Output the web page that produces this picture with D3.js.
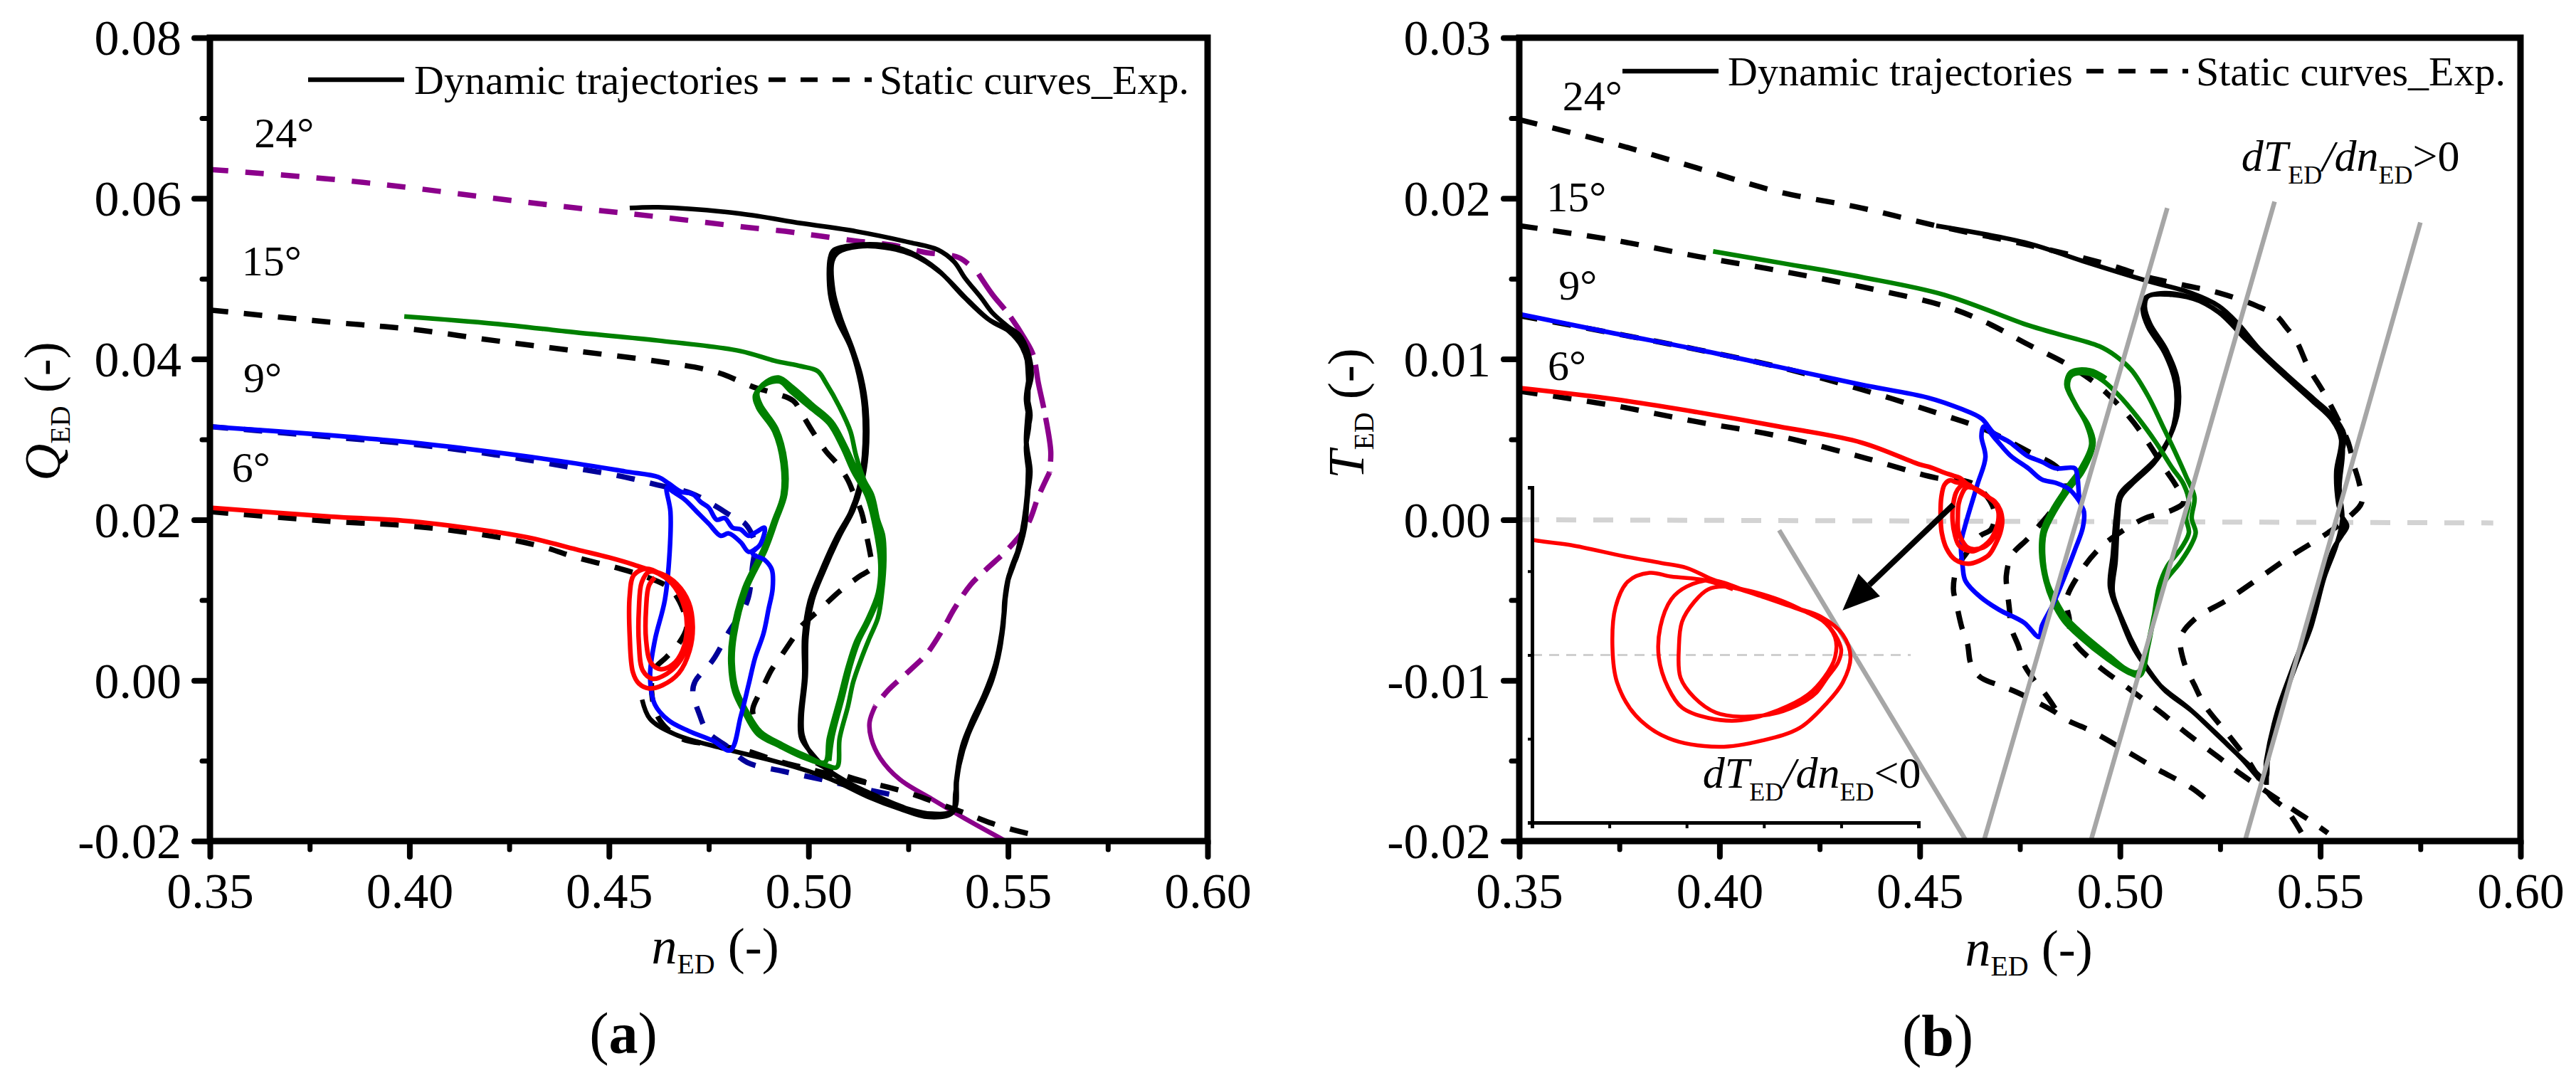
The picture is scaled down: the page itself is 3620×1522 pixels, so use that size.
<!DOCTYPE html>
<html><head><meta charset="utf-8">
<script src="https://cdn.jsdelivr.net/npm/d3@7"></script>
<style>body{margin:0;background:#fff}svg{display:block}
svg text{font-family:"Liberation Serif","Times New Roman",Times,serif !important}</style>
</head><body><svg id="c" width="3620" height="1522"></svg>
<script>
// ---------- tick values & labels ----------
const xTicks=[0.35,0.40,0.45,0.50,0.55,0.60];
const xMinor=[0.375,0.425,0.475,0.525,0.575];
const qTicks=[-0.02,0.00,0.02,0.04,0.06,0.08];
const qMinor=[-0.01,0.01,0.03,0.05,0.07];
const tTicks=[-0.02,-0.01,0.00,0.01,0.02,0.03];
const tMinor=[-0.015,-0.005,0.005,0.015,0.025];
const insetXTicks=[0.45,0.455,0.46,0.465,0.47,0.475];
const insetYTicks=[-0.005,-0.0025,0,0.0025,0.005];
const angleLabels=["24°","15°","9°","6°"];
const legendLabels=["Dynamic trajectories","Static curves_Exp."];

// ---------- panel (a): Q_ED vs n_ED ----------
const qStatic24=[[0.35,0.0636],[0.3802,0.0624],[0.4007,0.0613],[0.4213,0.0600],[0.4418,0.0588],[0.4624,0.0577],[0.4846,0.0564],[0.4942,0.0559],[0.5017,0.0554],[0.5119,0.0547],[0.5208,0.0542],[0.5290,0.0533],[0.5378,0.0526],[0.5426,0.0506],[0.5460,0.0481],[0.5501,0.0456],[0.5542,0.0425],[0.5563,0.0405],[0.5576,0.0370],[0.5593,0.0330],[0.5607,0.0285],[0.5604,0.0259],[0.5576,0.0229],[0.5549,0.0194],[0.5501,0.0164],[0.5447,0.0139],[0.5406,0.0119],[0.5365,0.0089],[0.5337,0.0064],[0.5296,0.0033],[0.5255,0.0013],[0.5200,-0.0012],[0.5167,-0.0032],[0.5153,-0.0052],[0.5157,-0.0072],[0.5180,-0.0097],[0.5228,-0.0123],[0.5310,-0.0148],[0.5392,-0.0172],[0.5494,-0.0200]];
const qStatic15=[[0.35,0.0461],[0.3802,0.0446],[0.4007,0.0437],[0.4213,0.0423],[0.4418,0.0410],[0.4624,0.0397],[0.4767,0.0384],[0.4863,0.0365],[0.4911,0.0358],[0.4962,0.0348],[0.4983,0.0332],[0.5010,0.0310],[0.5044,0.0285],[0.5071,0.0270],[0.5098,0.0250],[0.5112,0.0234],[0.5133,0.0209],[0.5146,0.0179],[0.5156,0.0154],[0.5160,0.0141],[0.5126,0.0129],[0.5078,0.0111],[0.5030,0.0089],[0.4983,0.0068],[0.4962,0.0053],[0.4928,0.0028],[0.4907,0.0013],[0.4887,-0.0007],[0.4873,-0.0020],[0.4860,-0.0037],[0.4870,-0.0055],[0.4880,-0.0067],[0.4914,-0.0077],[0.4969,-0.0090],[0.5017,-0.0102],[0.5071,-0.0115],[0.5133,-0.0125],[0.5200,-0.0133],[0.5269,-0.0143],[0.5324,-0.0153],[0.5392,-0.0165],[0.5460,-0.0178],[0.5528,-0.0188],[0.5580,-0.0194]];
const qStatic9=[[0.35,0.0316],[0.3802,0.0303],[0.4007,0.0294],[0.4213,0.0281],[0.4418,0.0264],[0.4541,0.0253],[0.4624,0.0243],[0.4706,0.0233],[0.4767,0.0217],[0.4809,0.0204],[0.4839,0.0196],[0.4855,0.0185],[0.4866,0.0170],[0.4860,0.0144],[0.4846,0.0098],[0.4800,0.0060],[0.4760,0.0025],[0.4716,-0.0001],[0.4710,-0.0015],[0.4725,-0.0040],[0.4747,-0.0064],[0.4798,-0.0083],[0.4846,-0.0102],[0.4935,-0.0113],[0.5030,-0.0123],[0.5119,-0.0133],[0.5215,-0.0143]];
const qStatic6=[[0.35,0.0210],[0.3802,0.0198],[0.4007,0.0192],[0.4213,0.0179],[0.4336,0.0166],[0.4418,0.0153],[0.4521,0.0140],[0.4603,0.0127],[0.4654,0.0114],[0.4685,0.0089],[0.4695,0.0067],[0.4675,0.0046],[0.4644,0.0029],[0.4613,0.0013],[0.4608,-0.0020],[0.4628,-0.0050],[0.4680,-0.0072],[0.4760,-0.0080],[0.4846,-0.0088],[0.4914,-0.0099],[0.4982,-0.0108],[0.5030,-0.0114],[0.5100,-0.0122],[0.5150,-0.0128]];
const qDyn24=[[0.4552,0.0588],[0.4624,0.0589],[0.4829,0.0581],[0.4982,0.0569],[0.5119,0.0559],[0.5255,0.0545],[0.5324,0.0536],[0.5365,0.0521],[0.5392,0.0501],[0.5433,0.0476],[0.5460,0.0458],[0.5501,0.0440],[0.5528,0.0430],[0.5549,0.0410],[0.5559,0.0380],[0.5549,0.0355],[0.5556,0.0330],[0.5546,0.0300],[0.5556,0.0260],[0.5549,0.0230],[0.5542,0.0190],[0.5522,0.0154],[0.5501,0.0129],[0.5491,0.0099],[0.5488,0.0068],[0.5474,0.0028],[0.5447,-0.0012],[0.5413,-0.0047],[0.5385,-0.0082],[0.5372,-0.0123],[0.5365,-0.0160],[0.5324,-0.0168],[0.5269,-0.0163],[0.5187,-0.0148],[0.5119,-0.0133],[0.5051,-0.0113],[0.5010,-0.0092],[0.4982,-0.0072],[0.4979,-0.0047],[0.4989,0.0003],[0.4989,0.0054],[0.5003,0.0099],[0.5030,0.0134],[0.5071,0.0179],[0.5105,0.0209],[0.5126,0.0239],[0.5139,0.0280],[0.5139,0.0340],[0.5126,0.0380],[0.5105,0.0415],[0.5071,0.0450],[0.5054,0.0481],[0.5054,0.0526],[0.5064,0.0536],[0.5119,0.0542],[0.5187,0.0542],[0.5255,0.0533],[0.5324,0.0511],[0.5392,0.0476],[0.5447,0.0451],[0.5501,0.0435],[0.5535,0.0415],[0.5552,0.0385],[0.5545,0.0350],[0.5553,0.0320],[0.5545,0.0290],[0.5552,0.0250],[0.5545,0.0210],[0.5530,0.0170],[0.5505,0.0135],[0.5493,0.0100],[0.5484,0.0060],[0.5468,0.0020],[0.5440,-0.0018],[0.5408,-0.0052],[0.5382,-0.0088],[0.5370,-0.0125],[0.5362,-0.0162],[0.5310,-0.0166],[0.5250,-0.0160],[0.5180,-0.0146],[0.5110,-0.0130],[0.5045,-0.0110],[0.5005,-0.0090],[0.4985,-0.0068],[0.4983,-0.0045],[0.4993,0.0005],[0.4995,0.0055],[0.5010,0.0100],[0.5038,0.0136],[0.5078,0.0180],[0.5112,0.0212],[0.5132,0.0242],[0.5145,0.0282],[0.5145,0.0338],[0.5132,0.0378],[0.5110,0.0413],[0.5080,0.0452],[0.5062,0.0485],[0.5060,0.0522],[0.5075,0.0533],[0.5125,0.0540],[0.5190,0.0539],[0.5260,0.0530],[0.5330,0.0508],[0.5400,0.0473],[0.5455,0.0448],[0.5510,0.0432],[0.5542,0.0410],[0.5550,0.0380],[0.5550,0.0340],[0.5545,0.0300],[0.5550,0.0260],[0.5540,0.0200],[0.5518,0.0150],[0.5498,0.0120],[0.5490,0.0080],[0.5480,0.0040],[0.5460,0.0000],[0.5430,-0.0035],[0.5400,-0.0068],[0.5378,-0.0105],[0.5368,-0.0140],[0.5360,-0.0165],[0.5300,-0.0170],[0.5230,-0.0160],[0.5150,-0.0145],[0.5070,-0.0126],[0.5000,-0.0113],[0.4911,-0.0100],[0.4788,-0.0085],[0.4665,-0.0067],[0.4603,-0.0048],[0.4583,-0.0024]];
const qDyn15=[[0.3987,0.0453],[0.4213,0.0444],[0.4418,0.0433],[0.4624,0.0423],[0.4829,0.0410],[0.4914,0.0398],[0.4982,0.0391],[0.5023,0.0385],[0.5044,0.0370],[0.5078,0.0340],[0.5105,0.0310],[0.5119,0.0280],[0.5139,0.0250],[0.5160,0.0230],[0.5174,0.0200],[0.5187,0.0180],[0.5190,0.0150],[0.5184,0.0109],[0.5174,0.0078],[0.5153,0.0053],[0.5133,0.0028],[0.5112,-0.0002],[0.5099,-0.0032],[0.5078,-0.0072],[0.5071,-0.0108],[0.5041,-0.0105],[0.4982,-0.0095],[0.4928,-0.0082],[0.4873,-0.0067],[0.4839,-0.0040],[0.4814,-0.0014],[0.4804,0.0021],[0.4808,0.0055],[0.4839,0.0115],[0.4887,0.0164],[0.4914,0.0200],[0.4935,0.0230],[0.4935,0.0270],[0.4914,0.0310],[0.4873,0.0340],[0.4866,0.0355],[0.4890,0.0368],[0.4928,0.0372],[0.4955,0.0360],[0.5003,0.0340],[0.5051,0.0320],[0.5085,0.0290],[0.5112,0.0260],[0.5146,0.0230],[0.5167,0.0190],[0.5180,0.0144],[0.5174,0.0109],[0.5146,0.0074],[0.5119,0.0048],[0.5099,0.0018],[0.5078,-0.0022],[0.5051,-0.0072],[0.5041,-0.0102],[0.4990,-0.0093],[0.4935,-0.0080],[0.4880,-0.0064],[0.4845,-0.0038],[0.4820,-0.0012],[0.4810,0.0022],[0.4815,0.0056],[0.4845,0.0114],[0.4893,0.0163],[0.4920,0.0200],[0.4942,0.0232],[0.4942,0.0272],[0.4920,0.0313],[0.4880,0.0343],[0.4872,0.0358],[0.4895,0.0372],[0.4925,0.0377],[0.4960,0.0365],[0.5010,0.0343],[0.5058,0.0322],[0.5092,0.0292],[0.5120,0.0262],[0.5152,0.0232],[0.5173,0.0192],[0.5186,0.0146],[0.5180,0.0110],[0.5152,0.0075],[0.5125,0.0048],[0.5105,0.0018],[0.5085,-0.0022],[0.5060,-0.0070],[0.5052,-0.0100]];
const qDyn9=[[0.35,0.0316],[0.3802,0.0305],[0.4007,0.0296],[0.4213,0.0284],[0.4418,0.0270],[0.4541,0.0260],[0.4624,0.0253],[0.4650,0.0245],[0.4680,0.0235],[0.4710,0.0232],[0.4730,0.0222],[0.4750,0.0215],[0.4770,0.0200],[0.4790,0.0202],[0.4810,0.0190],[0.4830,0.0188],[0.4850,0.0180],[0.4870,0.0185],[0.4890,0.0190],[0.4880,0.0170],[0.4860,0.0158],[0.4890,0.0150],[0.4908,0.0138],[0.4910,0.0114],[0.4900,0.0089],[0.4887,0.0058],[0.4866,0.0028],[0.4850,-0.0005],[0.4830,-0.0045],[0.4804,-0.0087],[0.4760,-0.0075],[0.4700,-0.0063],[0.4650,-0.0050],[0.4615,-0.0030],[0.4603,0.0005],[0.4615,0.0050],[0.4640,0.0100],[0.4652,0.0160],[0.4654,0.0210],[0.4645,0.0240],[0.4660,0.0235],[0.4690,0.0225],[0.4720,0.0210],[0.4750,0.0195],[0.4780,0.0180],[0.4800,0.0183],[0.4830,0.0172],[0.4850,0.0160],[0.4870,0.0165]];
const qDyn6=[[0.35,0.0215],[0.3802,0.0204],[0.4007,0.0198],[0.4213,0.0185],[0.4315,0.0176],[0.4418,0.0163],[0.4500,0.0153],[0.4562,0.0144],[0.4624,0.0133],[0.4654,0.0123],[0.4685,0.0106],[0.4702,0.0084],[0.4706,0.0063],[0.4695,0.0042],[0.4675,0.0022],[0.4644,0.0008],[0.4610,0.0002],[0.4585,0.0012],[0.4575,0.0046],[0.4575,0.0089],[0.4582,0.0122],[0.4600,0.0135],[0.4630,0.0133],[0.4670,0.0120],[0.4700,0.0097],[0.4710,0.0067],[0.4702,0.0037],[0.4675,0.0009],[0.4634,-0.0006],[0.4600,-0.0010],[0.4575,-0.0004],[0.4560,0.0010],[0.4552,0.0054],[0.4552,0.0106],[0.4562,0.0131],[0.4593,0.0139],[0.4630,0.0132],[0.4665,0.0116],[0.4690,0.0089],[0.4695,0.0063],[0.4684,0.0037],[0.4660,0.0020],[0.4630,0.0014],[0.4605,0.0022],[0.4593,0.0050],[0.4593,0.0090],[0.4600,0.0118],[0.4615,0.0128]];

// ---------- panel (b): T_ED vs n_ED ----------
const tStatic24=[[0.35,0.0249],[0.3737,0.0234],[0.3943,0.0219],[0.4149,0.0204],[0.4355,0.0194],[0.4541,0.0183],[0.4771,0.0171],[0.4968,0.0159],[0.5070,0.0151],[0.5159,0.0146],[0.5250,0.0141],[0.5342,0.0133],[0.5390,0.0127],[0.5414,0.0120],[0.5441,0.0111],[0.5470,0.0095],[0.5509,0.0079],[0.5545,0.0062],[0.5570,0.0048],[0.5584,0.0034],[0.5597,0.0023],[0.5604,0.0011],[0.5573,0.0002],[0.5520,-0.0008],[0.5424,-0.0023],[0.5349,-0.0036],[0.5267,-0.0050],[0.5186,-0.0062],[0.5152,-0.0073],[0.5159,-0.0088],[0.5186,-0.0103],[0.5213,-0.0116],[0.5271,-0.0134],[0.5320,-0.0150],[0.5376,-0.0172],[0.5417,-0.0181],[0.5458,-0.0197]];
const tStatic15=[[0.35,0.0183],[0.3737,0.0174],[0.3943,0.0164],[0.4149,0.0155],[0.4355,0.0145],[0.4561,0.0133],[0.4664,0.0123],[0.4771,0.0109],[0.4873,0.0096],[0.4948,0.0083],[0.5023,0.0064],[0.5070,0.0048],[0.5111,0.0032],[0.5138,0.0022],[0.5159,0.0011],[0.5130,0.0006],[0.5063,0.0001],[0.5000,-0.0008],[0.4948,-0.0018],[0.4900,-0.0033],[0.4866,-0.0050],[0.4873,-0.0061],[0.4880,-0.0074],[0.4941,-0.0090],[0.5016,-0.0104],[0.5097,-0.0119],[0.5172,-0.0134],[0.5247,-0.0148],[0.5300,-0.0158],[0.5370,-0.0170],[0.5430,-0.0180],[0.5485,-0.0189],[0.5519,-0.0195]];
const tStatic9=[[0.35,0.0127],[0.3737,0.0116],[0.3943,0.0106],[0.4149,0.0095],[0.4355,0.0081],[0.4561,0.0065],[0.4664,0.0056],[0.4767,0.0043],[0.4846,0.0032],[0.4866,0.0022],[0.4830,0.0006],[0.4797,-0.0004],[0.4769,-0.0012],[0.4730,-0.0022],[0.4716,-0.0035],[0.4719,-0.0045],[0.4724,-0.0056],[0.4728,-0.0067],[0.4747,-0.0079],[0.4760,-0.0090],[0.4783,-0.0099],[0.4815,-0.0109],[0.4842,-0.0119]];
const tStatic6=[[0.35,0.0080],[0.3737,0.0071],[0.3943,0.0061],[0.4149,0.0052],[0.4355,0.0039],[0.4541,0.0026],[0.4628,0.0023],[0.4669,0.0014],[0.4687,0.0004],[0.4678,-0.0006],[0.4651,-0.0010],[0.4616,-0.0021],[0.4593,-0.0030],[0.4584,-0.0043],[0.4593,-0.0054],[0.4605,-0.0067],[0.4619,-0.0077],[0.4628,-0.0090],[0.4651,-0.0098],[0.4698,-0.0103],[0.4739,-0.0107],[0.4788,-0.0113],[0.4833,-0.0119],[0.4870,-0.0125],[0.4924,-0.0131],[0.5009,-0.0143],[0.5091,-0.0155],[0.5179,-0.0167],[0.5220,-0.0175]];
const tDyn24=[[0.4541,0.0183],[0.4771,0.0172],[0.4907,0.0161],[0.5063,0.0149],[0.5179,0.0141],[0.5247,0.0133],[0.5295,0.0122],[0.5349,0.0106],[0.5417,0.0090],[0.5485,0.0075],[0.5533,0.0064],[0.5560,0.0053],[0.5553,0.0040],[0.5546,0.0022],[0.5553,0.0003],[0.5567,-0.0004],[0.5553,-0.0010],[0.5533,-0.0018],[0.5505,-0.0039],[0.5478,-0.0066],[0.5437,-0.0092],[0.5397,-0.0119],[0.5369,-0.0145],[0.5363,-0.0161],[0.5315,-0.0151],[0.5247,-0.0135],[0.5179,-0.0119],[0.5111,-0.0106],[0.5070,-0.0093],[0.5043,-0.0082],[0.5009,-0.0064],[0.4982,-0.0045],[0.4989,-0.0026],[0.4995,0.0001],[0.5002,0.0014],[0.5029,0.0022],[0.5084,0.0035],[0.5118,0.0048],[0.5138,0.0064],[0.5138,0.0085],[0.5111,0.0104],[0.5070,0.0120],[0.5057,0.0130],[0.5063,0.0138],[0.5111,0.0141],[0.5179,0.0138],[0.5247,0.0129],[0.5315,0.0112],[0.5400,0.0092],[0.5480,0.0074],[0.5530,0.0062],[0.5552,0.0050],[0.5540,0.0030],[0.5545,0.0010],[0.5560,-0.0005],[0.5540,-0.0015],[0.5500,-0.0038],[0.5470,-0.0066],[0.5430,-0.0093],[0.5392,-0.0120],[0.5365,-0.0150],[0.5360,-0.0163],[0.5305,-0.0149],[0.5240,-0.0133],[0.5170,-0.0117],[0.5100,-0.0103],[0.5060,-0.0090],[0.5030,-0.0078],[0.5000,-0.0060],[0.4975,-0.0042],[0.4982,-0.0022],[0.4990,0.0002],[0.5000,0.0016],[0.5035,0.0025],[0.5090,0.0038],[0.5125,0.0052],[0.5145,0.0068],[0.5143,0.0088],[0.5115,0.0106],[0.5075,0.0122],[0.5062,0.0133],[0.5070,0.0139],[0.5130,0.0140],[0.5200,0.0136],[0.5270,0.0125],[0.5340,0.0108],[0.5420,0.0089],[0.5490,0.0073],[0.5540,0.0060],[0.5556,0.0045],[0.5548,0.0020],[0.5555,0.0000],[0.5540,-0.0016],[0.5510,-0.0036],[0.5480,-0.0064],[0.5440,-0.0090],[0.5400,-0.0118],[0.5370,-0.0148],[0.5366,-0.0165]];
const tDyn15=[[0.3984,0.0167],[0.4149,0.0160],[0.4355,0.0151],[0.4561,0.0140],[0.4771,0.0121],[0.4839,0.0116],[0.4948,0.0108],[0.4989,0.0102],[0.5029,0.0093],[0.5070,0.0077],[0.5111,0.0056],[0.5138,0.0042],[0.5165,0.0027],[0.5186,0.0014],[0.5179,0.0001],[0.5189,-0.0008],[0.5179,-0.0015],[0.5152,-0.0026],[0.5111,-0.0039],[0.5091,-0.0053],[0.5077,-0.0069],[0.5057,-0.0090],[0.5043,-0.0095],[0.5016,-0.0093],[0.4975,-0.0085],[0.4907,-0.0071],[0.4866,-0.0061],[0.4839,-0.0050],[0.4819,-0.0039],[0.4808,-0.0021],[0.4812,-0.0008],[0.4839,0.0006],[0.4873,0.0019],[0.4907,0.0030],[0.4934,0.0048],[0.4921,0.0059],[0.4893,0.0070],[0.4870,0.0083],[0.4880,0.0090],[0.4921,0.0091],[0.4955,0.0087],[0.4995,0.0078],[0.5043,0.0064],[0.5090,0.0048],[0.5131,0.0032],[0.5159,0.0022],[0.5172,0.0011],[0.5165,0.0001],[0.5172,-0.0008],[0.5152,-0.0018],[0.5118,-0.0029],[0.5097,-0.0042],[0.5084,-0.0061],[0.5070,-0.0079],[0.5050,-0.0097],[0.5020,-0.0095],[0.4970,-0.0087],[0.4900,-0.0073],[0.4860,-0.0063],[0.4832,-0.0051],[0.4814,-0.0038],[0.4803,-0.0020],[0.4808,-0.0006],[0.4835,0.0008],[0.4870,0.0021],[0.4902,0.0032],[0.4928,0.0047],[0.4915,0.0060],[0.4888,0.0072],[0.4866,0.0084],[0.4878,0.0092],[0.4925,0.0093],[0.4965,0.0088]];
const tDyn9=[[0.35,0.0128],[0.3737,0.0116],[0.3943,0.0106],[0.4149,0.0095],[0.4355,0.0084],[0.4520,0.0076],[0.4603,0.0069],[0.4654,0.0063],[0.4685,0.0054],[0.4726,0.0048],[0.4767,0.0040],[0.4805,0.0036],[0.4839,0.0032],[0.4887,0.0032],[0.4893,0.0028],[0.4900,0.0011],[0.4910,0.0005],[0.4907,-0.0005],[0.4887,-0.0019],[0.4859,-0.0037],[0.4832,-0.0053],[0.4805,-0.0066],[0.4798,-0.0073],[0.4760,-0.0064],[0.4698,-0.0056],[0.4651,-0.0048],[0.4614,-0.0038],[0.4607,-0.0029],[0.4603,-0.0015],[0.4613,-0.0004],[0.4644,0.0022],[0.4664,0.0039],[0.4654,0.0052],[0.4660,0.0058],[0.4690,0.0050],[0.4726,0.0040],[0.4771,0.0032],[0.4805,0.0025],[0.4839,0.0023],[0.4873,0.0019],[0.4900,0.0011]];
const tDyn6=[[0.35,0.0082],[0.3737,0.0075],[0.3943,0.0067],[0.4149,0.0058],[0.4355,0.0048],[0.4501,0.00343],[0.4525,0.00328],[0.4560,0.00294],[0.4583,0.00275],[0.4600,0.00260],[0.4616,0.00227],[0.4630,0.00204],[0.4649,0.00181],[0.4663,0.00159],[0.4677,0.00129],[0.4689,0.00099],[0.4696,0.00061],[0.4700,0.00016],[0.4698,-0.00022],[0.4691,-0.00067],[0.4684,-0.00112],[0.4675,-0.00142],[0.4659,-0.00172],[0.4635,-0.00184],[0.4619,-0.00172],[0.4605,-0.00127],[0.4596,-0.00067],[0.4595,0.00023],[0.4597,0.00099],[0.4605,0.00159],[0.4614,0.00196],[0.4626,0.00204],[0.4649,0.00174],[0.4668,0.00144],[0.4687,0.00106],[0.4696,0.00053],[0.4696,-0.00007],[0.4689,-0.00067],[0.4678,-0.00120],[0.4659,-0.00165],[0.4635,-0.00195],[0.4614,-0.00188],[0.4597,-0.00157],[0.4588,-0.00097],[0.4582,-0.00007],[0.4583,0.00084],[0.4590,0.00166],[0.4600,0.00204],[0.4616,0.00223],[0.4642,0.00185],[0.4666,0.00147],[0.4687,0.00114],[0.4701,0.00061],[0.4706,-0.00007],[0.4701,-0.00082],[0.4691,-0.00142],[0.4673,-0.00218],[0.4649,-0.00255],[0.4621,-0.00274],[0.4588,-0.00248],[0.4567,-0.00180],[0.4555,-0.00082],[0.4552,0.00023],[0.4554,0.00143],[0.4562,0.00219],[0.4576,0.00245],[0.4590,0.00234],[0.4612,0.00223],[0.4630,0.00196]];
const slopeLines=[[[0.4149,-0.00065],[0.4616,-0.0200]],[[0.4660,-0.0200],[0.5118,0.0194]],[[0.4927,-0.0200],[0.5386,0.0198]],[[0.5312,-0.0200],[0.5750,0.0185]]];
const zeroTorqueLine=[[0.35,0.0],[0.5932,-0.0002]];
const arrowLine=[[0.4584,0.00094],[0.4307,-0.00565]];
const insetZeroLine=[[0.45,0],[0.4745,0]];

// ---------- drawing ----------
const FONT='"Liberation Serif","Times New Roman",Times,serif';
const svg=d3.select("#c").attr("font-family",FONT);
svg.append("rect").attr("width",3620).attr("height",1522).attr("fill","#fff");
const fmt=v=>v.toFixed(2);
const C={red:"#ff0000",blue:"#0000ff",green:"#008000",purple:"#8b008b",navy:"#000099",black:"#000",gray:"#a6a6a6",light:"#d3d3d3"};
const DYN=6.5, STA=7.5;

function makePanel(cfg){
  const g=svg.append("g");
  const x=d3.scaleLinear().domain([0.35,0.60]).range([cfg.left,cfg.right]);
  const y=d3.scaleLinear().domain(cfg.yDomain).range([cfg.bottom,cfg.top]);
  const cid="clip"+cfg.id;
  svg.append("clipPath").attr("id",cid).append("rect")
    .attr("x",cfg.left).attr("y",cfg.top).attr("width",cfg.right-cfg.left).attr("height",cfg.bottom-cfg.top);
  const plot=g.append("g").attr("clip-path",`url(#${cid})`);
  const line=d3.line().x(d=>x(d[0])).y(d=>y(d[1])).curve(d3.curveCatmullRom.alpha(0.5));
  return {g,x,y,plot,line};
}
function drawCurve(p,data,color,width,dash){
  p.plot.append("path").attr("d",p.line(data)).attr("fill","none").attr("stroke",color)
   .attr("stroke-width",width).attr("stroke-dasharray",dash||null).attr("stroke-linejoin","round");
}
function drawAxes(p,cfg,yMajor,yMinor){
  const {g,x,y}=p;
  const style=(sel,w)=>{sel.select(".domain").remove();
    sel.selectAll(".tick line").attr("stroke","#000").attr("stroke-width",w).attr("stroke-linecap","round");
    sel.attr("font-family",FONT).attr("font-size",70);
    sel.selectAll("text").attr("fill","#000");};
  g.append("g").attr("transform",`translate(0,${cfg.bottom})`)
    .call(d3.axisBottom(x).tickValues(xMinor).tickSize(12).tickFormat(""))
    .call(s=>style(s,7));
  g.append("g").attr("transform",`translate(0,${cfg.bottom})`)
    .call(d3.axisBottom(x).tickValues(xTicks).tickSize(22).tickFormat(fmt))
    .call(s=>{style(s,8);s.selectAll("text").attr("y",44).attr("dy","0.71em");});
  g.append("g").attr("transform",`translate(${cfg.left},0)`)
    .call(d3.axisLeft(y).tickValues(yMinor).tickSize(11).tickFormat(""))
    .call(s=>style(s,7));
  g.append("g").attr("transform",`translate(${cfg.left},0)`)
    .call(d3.axisLeft(y).tickValues(yMajor).tickSize(22).tickFormat(fmt))
    .call(s=>{style(s,8);s.selectAll("text").attr("x",-40).attr("dy","0.34em");});
  g.append("rect").attr("x",cfg.left).attr("y",cfg.top).attr("width",cfg.right-cfg.left)
    .attr("height",cfg.bottom-cfg.top).attr("fill","none").attr("stroke","#000").attr("stroke-width",9);
}
function subText(parent,x,y,parts,size,anchor,rotate){
  const t=parent.append("text").attr("text-anchor",anchor||"start").attr("font-size",size).attr("fill","#000")
    .attr("transform",`translate(${x},${y})`+(rotate?` rotate(${rotate})`:""));
  let cur=0;
  parts.forEach(pt=>{
    const s=t.append("tspan").text(pt.t);
    const off=pt.sub?pt.sub:0;
    if(off!==cur){s.attr("dy",off-cur);cur=off;}
    if(pt.it)s.attr("font-style","italic");
    if(pt.b)s.attr("font-weight","bold");
    if(pt.fs)s.attr("font-size",pt.fs);
  });
  return t;
}
function legend(p,cfg){
  const g=p.g;
  g.append("line").attr("x1",cfg.lx1).attr("x2",cfg.lx2).attr("y1",cfg.ly).attr("y2",cfg.ly).attr("stroke","#000").attr("stroke-width",6.5);
  g.append("text").attr("x",cfg.tx1).attr("y",cfg.ly+20).attr("font-size",58).text(legendLabels[0]);
  g.append("line").attr("x1",cfg.dx1).attr("x2",cfg.dx2).attr("y1",cfg.ly).attr("y2",cfg.ly).attr("stroke","#000").attr("stroke-width",6.5).attr("stroke-dasharray","24,21");
  g.append("text").attr("x",cfg.tx2).attr("y",cfg.ly+20).attr("font-size",58).text(legendLabels[1]);
}

// ----- panel (a) -----
const cfgA={id:"A",left:295,right:1697,top:53,bottom:1182,yDomain:[-0.02,0.08]};
const A=makePanel(cfgA);
drawCurve(A,qStatic24.slice(0,14),C.purple,STA,"26,24");
drawCurve(A,qStatic24.slice(13,22),C.purple,STA,"62,14");
drawCurve(A,qStatic24.slice(21,33),C.purple,STA,"30,16");
drawCurve(A,qStatic24.slice(32),C.purple,DYN);
drawCurve(A,qStatic15,C.black,STA,"26,22");
drawCurve(A,qStatic6,C.black,STA,"26,22");
drawCurve(A,qStatic9,C.navy,STA,"26,22");
drawCurve(A,qDyn24,C.black,DYN);
drawCurve(A,qDyn15,C.green,DYN);
drawCurve(A,qDyn9,C.blue,DYN);
drawCurve(A,qDyn6,C.red,DYN);
drawAxes(A,cfgA,qTicks,qMinor);
legend(A,{lx1:433,lx2:568,ly:112,tx1:582,dx1:1080,dx2:1225,tx2:1236});
const angA=[[0.3611,0.0664],[0.3580,0.0504],[0.3584,0.0359],[0.3555,0.0247]];
angleLabels.forEach((s,i)=>A.g.append("text").attr("x",A.x(angA[i][0])).attr("y",A.y(angA[i][1])).attr("font-size",60).text(s));
subText(A.g,1005,1354,[{t:"n",it:1},{t:"ED",sub:14,fs:40},{t:" (-)",sub:0}],72,"middle");
subText(A.g,84,578,[{t:"Q",it:1},{t:"ED",sub:14,fs:40},{t:" (-)",sub:0}],72,"middle",-90);
subText(A.g,876,1480,[{t:"("},{t:"a",b:1},{t:")"}],82,"middle");

// ----- panel (b) -----
const cfgB={id:"B",left:2135,right:3542,top:53,bottom:1182,yDomain:[-0.02,0.03]};
const B=makePanel(cfgB);
drawCurve(B,zeroTorqueLine,C.light,7,"28,24");
drawCurve(B,tStatic24,C.black,STA,"26,22");
drawCurve(B,tStatic15,C.black,STA,"26,22");
drawCurve(B,tStatic9,C.black,STA,"26,22");
drawCurve(B,tStatic6,C.black,STA,"26,22");
drawCurve(B,tDyn24,C.black,DYN);
drawCurve(B,tDyn15,C.green,DYN);
drawCurve(B,tDyn9,C.blue,DYN);
drawCurve(B,tDyn6,C.red,DYN);
slopeLines.forEach(l=>drawCurve(B,l,C.gray,6.5));

// inset (magnified 6° loop)
const xi=d3.scaleLinear().domain([0.45,0.475]).range([2153,2696]);
const yi=d3.scaleLinear().domain([-0.005,0.005]).range([1156,685]);
svg.append("clipPath").attr("id","clipI").append("rect").attr("x",2153).attr("y",685).attr("width",543).attr("height",471);
const ig=B.g.append("g");
const il=d3.line().x(d=>xi(d[0])).y(d=>yi(d[1])).curve(d3.curveCatmullRom.alpha(0.5));
ig.append("path").attr("d",il(insetZeroLine)).attr("fill","none").attr("stroke","#cfcfcf").attr("stroke-width",3).attr("stroke-dasharray","14,10");
ig.append("path").attr("clip-path","url(#clipI)").attr("d",il(tDyn6)).attr("fill","none").attr("stroke",C.red).attr("stroke-width",5.5).attr("stroke-linejoin","round");
ig.append("g").attr("transform","translate(0,1156)")
  .call(d3.axisBottom(xi).tickValues(insetXTicks).tickSize(8).tickFormat(""))
  .call(s=>{s.select(".domain").attr("stroke","#000").attr("stroke-width",5);s.selectAll(".tick line").attr("stroke-width",4);});
ig.append("g").attr("transform","translate(2153,0)")
  .call(d3.axisLeft(yi).tickValues(insetYTicks).tickSize(6).tickFormat(""))
  .call(s=>{s.select(".domain").attr("stroke","#000").attr("stroke-width",5);s.selectAll(".tick line").attr("stroke-width",4);});

// arrow
(function(){
  const x1=B.x(arrowLine[0][0]),y1=B.y(arrowLine[0][1]),x2=B.x(arrowLine[1][0]),y2=B.y(arrowLine[1][1]);
  const a=Math.atan2(y2-y1,x2-x1),L=52,Wd=22;
  const bx=x2-L*Math.cos(a),by=y2-L*Math.sin(a);
  B.g.append("line").attr("x1",x1).attr("y1",y1).attr("x2",bx).attr("y2",by).attr("stroke","#000").attr("stroke-width",8);
  B.g.append("path").attr("d",`M${x2},${y2}L${bx+Wd*Math.sin(a)},${by-Wd*Math.cos(a)}L${bx-Wd*Math.sin(a)},${by+Wd*Math.cos(a)}Z`).attr("fill","#000");
})();

drawAxes(B,cfgB,tTicks,tMinor);
legend(B,{lx1:2280,lx2:2415,ly:100,tx1:2428,dx1:2932,dx2:3075,tx2:3086});
const angB=[[0.3608,0.0255],[0.3568,0.0192],[0.3598,0.0137],[0.3571,0.0087]];
angleLabels.forEach((s,i)=>B.g.append("text").attr("x",B.x(angB[i][0])).attr("y",B.y(angB[i][1])).attr("font-size",60).text(s));
subText(B.g,B.x(0.5303),B.y(0.0217),[{t:"dT",it:1},{t:"ED",sub:18,fs:36},{t:"/",sub:0,it:1},{t:"dn",it:1},{t:"ED",sub:18,fs:36},{t:">0",sub:0}],62,"start");
subText(B.g,B.x(0.3958),B.y(-0.0167),[{t:"dT",it:1},{t:"ED",sub:18,fs:36},{t:"/",sub:0,it:1},{t:"dn",it:1},{t:"ED",sub:18,fs:36},{t:"<0",sub:0}],62,"start");
subText(B.g,2851,1357,[{t:"n",it:1},{t:"ED",sub:14,fs:40},{t:" (-)",sub:0}],72,"middle");
subText(B.g,1916,581,[{t:"T",it:1},{t:"ED",sub:14,fs:40},{t:" (-)",sub:0}],72,"middle",-90);
subText(B.g,2723,1483,[{t:"("},{t:"b",b:1},{t:")"}],82,"middle");
</script></body></html>
